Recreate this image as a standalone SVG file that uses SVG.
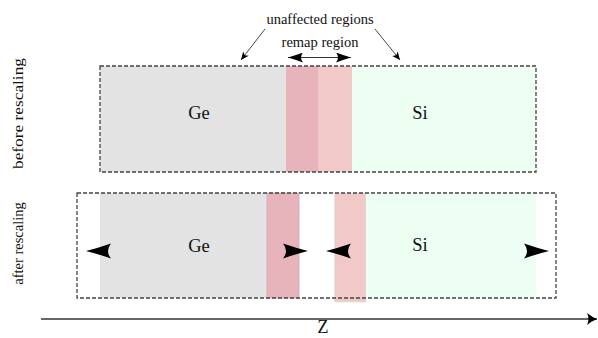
<svg xmlns="http://www.w3.org/2000/svg" width="598" height="338" viewBox="0 0 598 338">
<style>
text{font-family:"Liberation Serif","Times New Roman",serif;fill:#111}
.frame{fill:none;stroke:#444;stroke-width:1.3;stroke-dasharray:4 2}
.ge{fill:#e3e3e3}
.dp{fill:#e8b4bc;stroke:#cfa9ae;stroke-width:0.8}
.lp{fill:#f2c9c9;stroke:#d9e6dc;stroke-width:0.8}
.si{fill:#edfff3}
.lbl{font-size:14.5px}
.mat{font-size:18.5px}
.ln{stroke:#333;fill:none}
.hd{fill:#000}
</style>
<defs>
<path id="stealth" d="M0,0 Q-12,-3 -25,-7.5 Q-19,0 -25,7.5 Q-12,3 0,0 Z"/>
<marker id="sm" viewBox="-10 -5 12 10" refX="0" refY="0" markerWidth="12" markerHeight="10" markerUnits="userSpaceOnUse" orient="auto">
<path d="M0,0 L-8,-3.5 L-6,0 L-8,3.5 Z" fill="#000"/>
</marker>
<marker id="mid" viewBox="-15 -5 16 10" refX="0" refY="0" markerWidth="16" markerHeight="10" markerUnits="userSpaceOnUse" orient="auto-start-reverse">
<path d="M0,0 Q-7,-2 -15,-5 Q-11,0 -15,5 Q-7,2 0,0 Z" fill="#000"/>
</marker>
<marker id="zm" viewBox="-11 -6 12 12" refX="0" refY="0" markerWidth="12" markerHeight="12" markerUnits="userSpaceOnUse" orient="auto">
<path d="M0,0 Q-5,-2 -10,-6 Q-7,0 -10,6 Q-5,2 0,0 Z" fill="#000"/>
</marker>
</defs>

<g id="before">
<rect class="ge" x="100" y="66" width="186" height="106"/>
<rect class="dp" x="286" y="66" width="32" height="106" style="stroke:none"/>
<rect class="lp" x="318" y="66" width="34" height="106" style="stroke:none"/>
<rect class="si" x="352" y="66" width="184" height="106"/>
<rect class="frame" x="100" y="66" width="436" height="106"/>
<text class="mat" x="199" y="119" text-anchor="middle">Ge</text>
<text class="mat" x="420" y="119" text-anchor="middle">Si</text>
</g>

<g id="after">
<rect class="ge" x="100" y="193" width="167" height="105"/>
<rect class="dp" x="267" y="193" width="32" height="105"/>
<rect class="lp" x="334.5" y="193" width="31.5" height="109"/>
<rect class="si" x="366" y="193" width="170" height="105"/>
<rect class="frame" x="77" y="193" width="479" height="105"/>
<text class="mat" x="199" y="252" text-anchor="middle">Ge</text>
<text class="mat" x="420" y="251" text-anchor="middle">Si</text>
</g>

<g id="labels">
<text class="lbl" x="320" y="24" text-anchor="middle">unaffected regions</text>
<text class="lbl" x="320" y="47" text-anchor="middle">remap region</text>
<text class="lbl" transform="translate(23,113.5) rotate(-90)" text-anchor="middle" textLength="111" lengthAdjust="spacingAndGlyphs">before rescaling</text>
<text class="lbl" transform="translate(23,243.5) rotate(-90)" text-anchor="middle">after rescaling</text>
<text class="mat" x="323" y="333" text-anchor="middle">Z</text>
</g>

<g id="connectors">
<line class="ln" x1="265" y1="29" x2="241" y2="60" stroke-width="0.9" marker-end="url(#sm)"/>
<line class="ln" x1="375" y1="29" x2="400" y2="60" stroke-width="0.9" marker-end="url(#sm)"/>
<line class="ln" x1="288" y1="57.5" x2="351" y2="57.5" stroke-width="1.2" marker-start="url(#mid)" marker-end="url(#mid)"/>
<line class="ln" x1="41" y1="319" x2="597" y2="319" stroke="#444" stroke-width="1.6" marker-end="url(#zm)"/>
<use class="hd" href="#stealth" transform="translate(86,251) rotate(180)"/>
<use class="hd" href="#stealth" transform="translate(308,251)"/>
<use class="hd" href="#stealth" transform="translate(326,251) rotate(180)"/>
<use class="hd" href="#stealth" transform="translate(549,251)"/>
</g>
</svg>
